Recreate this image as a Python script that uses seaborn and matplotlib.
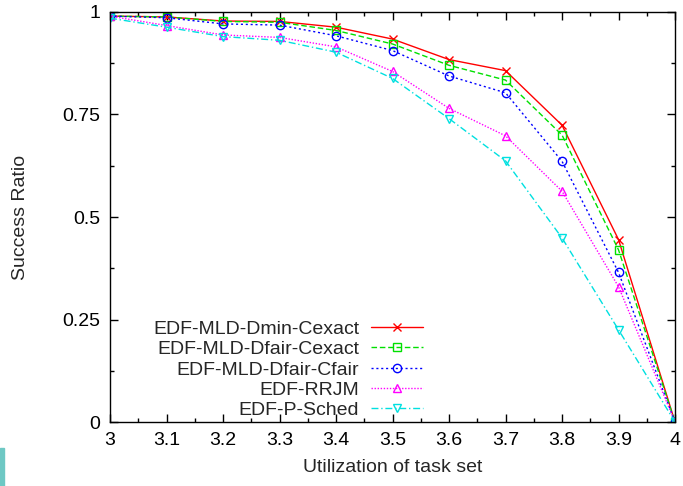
import numpy as np
import matplotlib
matplotlib.use('Agg')
import matplotlib.pyplot as plt
import seaborn as sns
from matplotlib.ticker import MultipleLocator

utilization = [3.0, 3.1, 3.2, 3.3, 3.4, 3.5, 3.6, 3.7, 3.8, 3.9, 4.0]

dmin_cexact = [0.99, 0.988, 0.978, 0.977, 0.963, 0.934, 0.884, 0.857, 0.724, 0.445, 0.0]
dfair_cexact = [0.99, 0.988, 0.977, 0.975, 0.955, 0.922, 0.870, 0.834, 0.700, 0.420, 0.0]
dfair_cfair = [0.99, 0.986, 0.971, 0.968, 0.942, 0.906, 0.844, 0.803, 0.636, 0.365, 0.0]
rrjm = [0.99, 0.967, 0.944, 0.938, 0.915, 0.855, 0.765, 0.698, 0.563, 0.330, 0.0]
p_sched = [0.985, 0.963, 0.940, 0.931, 0.902, 0.838, 0.740, 0.637, 0.449, 0.225, 0.0]

labels = ['EDF-MLD-Dmin-Cexact', 'EDF-MLD-Dfair-Cexact', 'EDF-MLD-Dfair-Cfair',
          'EDF-RRJM', 'EDF-P-Sched']
series = [dmin_cexact, dfair_cexact, dfair_cfair, rrjm, p_sched]
colors = ['#ff0000', '#00e000', '#0000ff', '#ff00ff', '#00e0e0']
styles = ['-', (0, (4, 2)), (0, (1.5, 2)), (0, (1, 1.2)), (0, (5, 2, 1, 2))]
markers = ['x', 's', 'o', '^', 'v']

xtick_vals = [3.0, 3.1, 3.2, 3.3, 3.4, 3.5, 3.6, 3.7, 3.8, 3.9, 4.0]
xtick_labels = ['3', '3.1', '3.2', '3.3', '3.4', '3.5', '3.6', '3.7', '3.8', '3.9', '4']
ytick_vals = [0, 0.25, 0.5, 0.75, 1]
ytick_labels = ['0', '0.25', '0.5', '0.75', '1']

sns.set_style('ticks')
plt.rcParams['font.family'] = ['Liberation Sans', 'DejaVu Sans']

fig = plt.figure(figsize=(6.83, 4.86), dpi=100)
ax = fig.add_axes([110 / 683, 1 - 422 / 486, 565 / 683, 410 / 486])

for vals, lab, col, ls, mk in zip(series, labels, colors, styles, markers):
    sns.lineplot(x=utilization, y=vals, ax=ax, color=col, linestyle=ls,
                 linewidth=1.0, marker=mk, markersize=6, mfc='none',
                 mec=col, mew=1.0, label=lab)

ax.set_xlim(3, 4)
ax.set_ylim(0, 1)
ax.set_xticks(xtick_vals)
ax.set_xticklabels(xtick_labels)
ax.set_yticks(ytick_vals)
ax.set_yticklabels(ytick_labels)
ax.xaxis.set_minor_locator(MultipleLocator(0.05))
ax.yaxis.set_minor_locator(MultipleLocator(0.125))
ax.tick_params(which='both', direction='in', top=True, right=True,
               labelsize=14, colors='black', pad=7)
ax.tick_params(which='major', length=6, width=1)
ax.tick_params(which='minor', length=3, width=1)
for sp in ax.spines.values():
    sp.set_linewidth(1.0)
    sp.set_color('black')

ax.set_xlabel('Utilization of task set', fontsize=14)
ax.set_ylabel('Success Ratio', fontsize=14)
ax.xaxis.set_label_coords(0.5, -0.09)
ax.yaxis.set_label_coords(-0.144, 0.5)

leg = ax.legend(loc='lower right', bbox_to_anchor=(321 / 565, -5 / 410),
                frameon=False, markerfirst=False, fontsize=14,
                handlelength=2.7, labelspacing=0.14, handletextpad=0.6,
                borderaxespad=0.0)
for col in leg._legend_handle_box.get_children():
    col.align = 'right'

fig.patches.append(plt.Rectangle((0, 0), 4 / 683, 38 / 486,
                                 transform=fig.transFigure,
                                 color='#6ec8c4', zorder=0))

fig.savefig('out.png', dpi=100)
